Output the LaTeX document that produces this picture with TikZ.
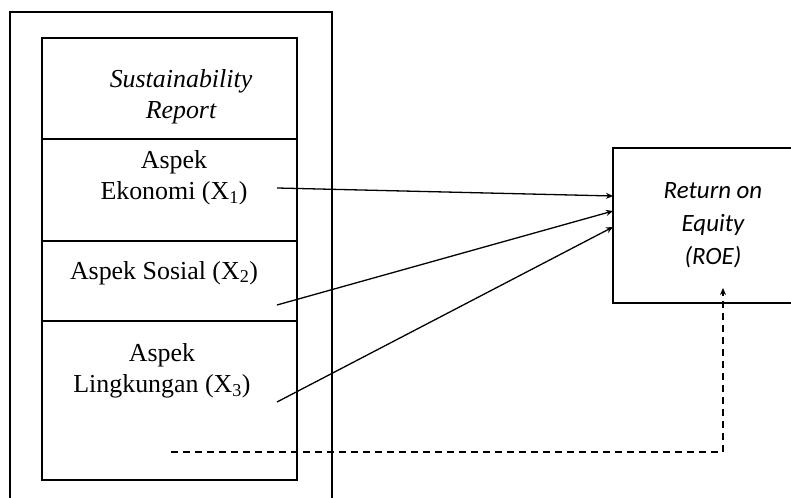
\documentclass[tikz,border=0pt]{standalone}
\usepackage{fontspec}
\setmainfont{Liberation Serif}
\newfontfamily\calfont{Carlito}
\usetikzlibrary{arrows.meta, positioning}

\begin{document}
\begin{tikzpicture}[x=1bp, y=-1bp, line width=1.3bp, > = {Stealth[length=7bp, width=6bp]},
	section/.style = {draw, minimum width=255bp, inner sep=0pt, outer sep=0pt},
	txt/.style = {align=center, inner sep=0pt, font=\fontsize{26}{31}\selectfont},
	dashline/.style = {dash pattern=on 7bp off 5bp}]
	\useasboundingbox (0,0) rectangle (791,498);

	% kerangka luar (terbuka di bawah)
	\draw (10,520) |- (332,12) -- (332,520);

	% bagian sustainability report
	\node [section, minimum height=101bp] (sr) at (169.5,88.5) {};
	\node [section, minimum height=102bp, below=0pt of sr] (eko) {};
	\node [section, minimum height=80bp, below=0pt of eko] (sos) {};
	\node [section, minimum height=159bp, below=0pt of sos] (lin) {};

	\node [txt, font=\fontsize{26}{31}\selectfont\itshape] (srtxt) at (181,97) {Sustainability\\Report};
	\node [txt] (ekotxt) at (174,178) {Aspek\\Ekonomi (X\textsubscript{1})};
	\node [txt] (sostxt) at (164,273) {Aspek Sosial (X\textsubscript{2})};
	\node [txt] (lintxt) at (162,371) {Aspek\\Lingkungan (X\textsubscript{3})};

	% variabel dependen
	\node [draw, minimum width=230bp, minimum height=155bp, inner sep=0pt, outer sep=0pt,
		anchor=north west] (roe) at (613,148) {};
	\node [txt, font=\fontsize{25}{33}\selectfont\calfont\itshape] (roetxt) at (713,225)
		{Return on\\Equity\\(ROE)};

	% panah
	\coordinate (x1) at (277,188);
	\coordinate (x2) at (277,305);
	\coordinate (x3) at (277,402);
	\coordinate (xall) at (171,452);

	\draw [->] (x1) -- ([yshift=-48bp]roe.north west);
	\draw [->] (x2) -- ([yshift=-63bp]roe.north west);
	\draw [->] (x3) -- ([yshift=-79bp]roe.north west);
	\draw [->, dashline] (xall) -| ([xshift=110bp, yshift=15bp]roe.south west);
\end{tikzpicture}
\end{document}
